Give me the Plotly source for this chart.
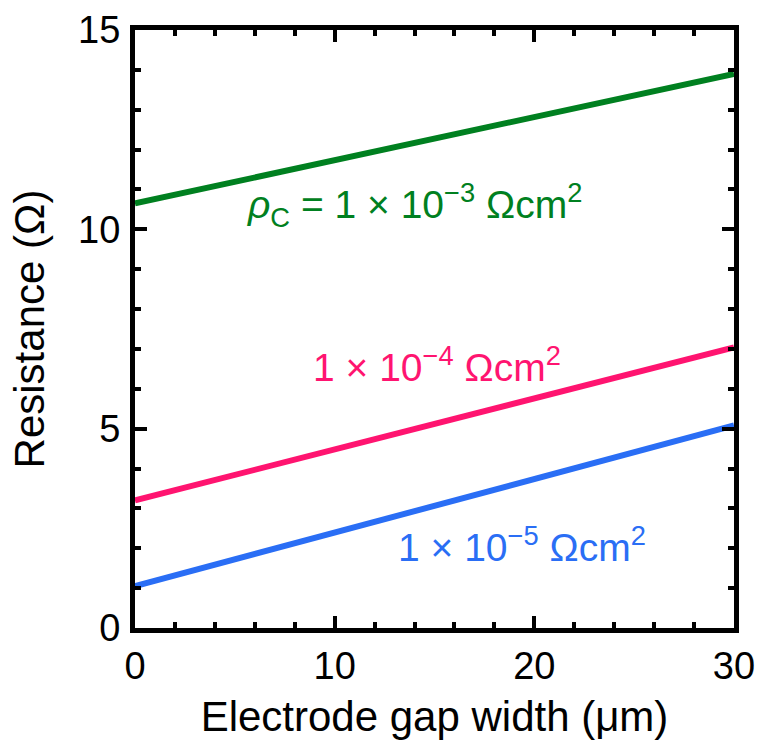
import plotly.graph_objects as go

gap_um = [0, 10, 20, 30]
r_1e3 = [10.65, 11.74, 12.83, 13.9]
r_1e4 = [3.2, 4.48, 5.76, 7.04]
r_1e5 = [1.05, 2.4, 3.75, 5.08]

series = [
    (r_1e3, "#008020", "<i>ρ</i><sub>C</sub> = 1 × 10<sup>−3</sup> Ωcm<sup>2</sup>", 5.5, 10.6),
    (r_1e4, "#ff1470", "1 × 10<sup>−4</sup> Ωcm<sup>2</sup>", 8.8, 6.6),
    (r_1e5, "#2a6ef5", "1 × 10<sup>−5</sup> Ωcm<sup>2</sup>", 13.05, 2.1),
]

FONT = "Liberation Sans, Arial, sans-serif"
fig = go.Figure()
for ys, col, label, ax, ay in series:
    fig.add_trace(go.Scatter(x=gap_um, y=ys, mode="lines",
                             line=dict(color=col, width=6), showlegend=False))
    fig.add_annotation(x=ax, y=ay, text=label, showarrow=False, xanchor="left",
                       yanchor="middle", font=dict(family=FONT, size=39, color=col))

axis_common = dict(showline=True, linecolor="black", linewidth=5, mirror="ticks",
                   ticks="inside", ticklen=12, tickwidth=4, tickcolor="black",
                   showgrid=False, zeroline=False, automargin=False,
                   tickfont=dict(family=FONT, size=38, color="black"))

fig.update_xaxes(range=[0, 30], dtick=10, tick0=0,
                 title=dict(text="Electrode gap width (μm)",
                            font=dict(family=FONT, size=42, color="black"), standoff=18),
                 minor=dict(dtick=2, ticks="inside", ticklen=6, tickwidth=4, tickcolor="black"),
                 **axis_common)
fig.update_yaxes(range=[0, 15], dtick=5, tick0=0, ticklabelstandoff=2,
                 title=dict(text="Resistance (Ω)",
                            font=dict(family=FONT, size=42, color="black"), standoff=22),
                 minor=dict(dtick=1, ticks="inside", ticklen=6, tickwidth=4, tickcolor="black"),
                 **axis_common)

fig.update_layout(width=763, height=749, margin=dict(l=135, r=29, t=30, b=121),
                  plot_bgcolor="white", paper_bgcolor="white",
                  font=dict(family=FONT))
fig.write_html("out.html")
